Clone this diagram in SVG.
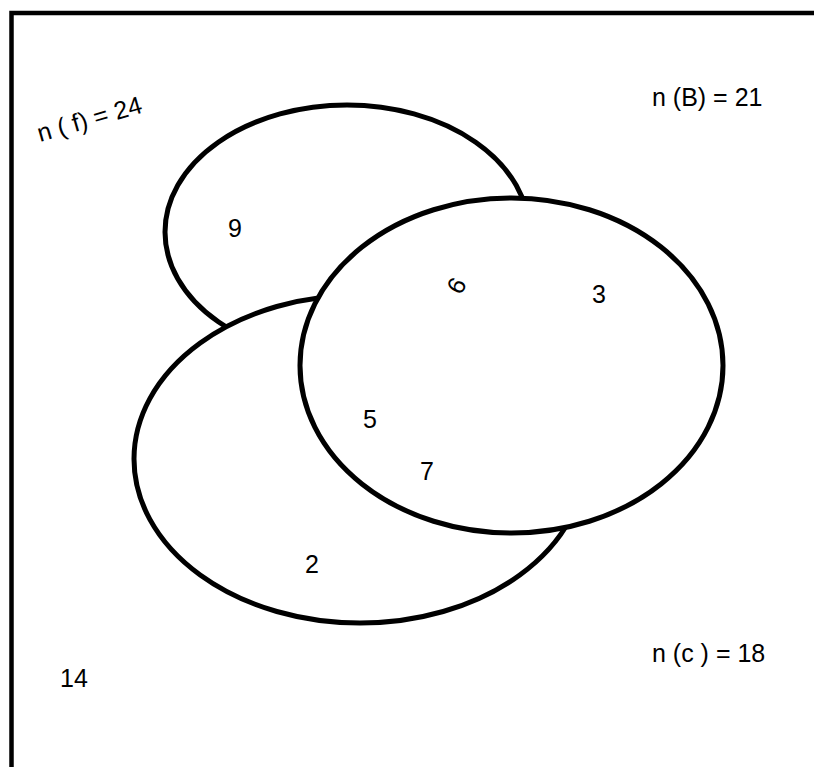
<svg xmlns="http://www.w3.org/2000/svg" width="814" height="767" viewBox="0 0 814 767">
<style>
.sh{fill:#fff;stroke:#000;stroke-width:5}
.t{font-family:"Liberation Sans",Arial,sans-serif;font-size:25px;fill:#000}
</style>
<rect x="0" y="0" width="814" height="767" fill="#fff"/>
<g id="frame"><rect x="11.5" y="13" width="840" height="800" fill="none" stroke="#000" stroke-width="4.5"/></g>
<g id="set-f"><ellipse class="sh" cx="347" cy="232" rx="182" ry="127"/></g>
<g id="set-c"><ellipse class="sh" cx="360" cy="459" rx="226" ry="164"/></g>
<g id="set-b"><ellipse class="sh" cx="511.5" cy="365.5" rx="211.5" ry="167.5"/></g>
<g id="labels">
<text class="t" x="40" y="142" transform="rotate(-16 40 142)">n ( f) = 24</text>
<text class="t" x="652" y="106">n (B) = 21</text>
<text class="t" x="652" y="662">n (c ) = 18</text>
<text class="t" x="60" y="687">14</text>
<text class="t" x="228" y="237">9</text>
<text class="t" x="457" y="294" text-anchor="middle" transform="rotate(-60 457 286)">6</text>
<text class="t" x="592" y="303">3</text>
<text class="t" x="363" y="428">5</text>
<text class="t" x="420" y="480">7</text>
<text class="t" x="305" y="573">2</text>
</g>
</svg>
